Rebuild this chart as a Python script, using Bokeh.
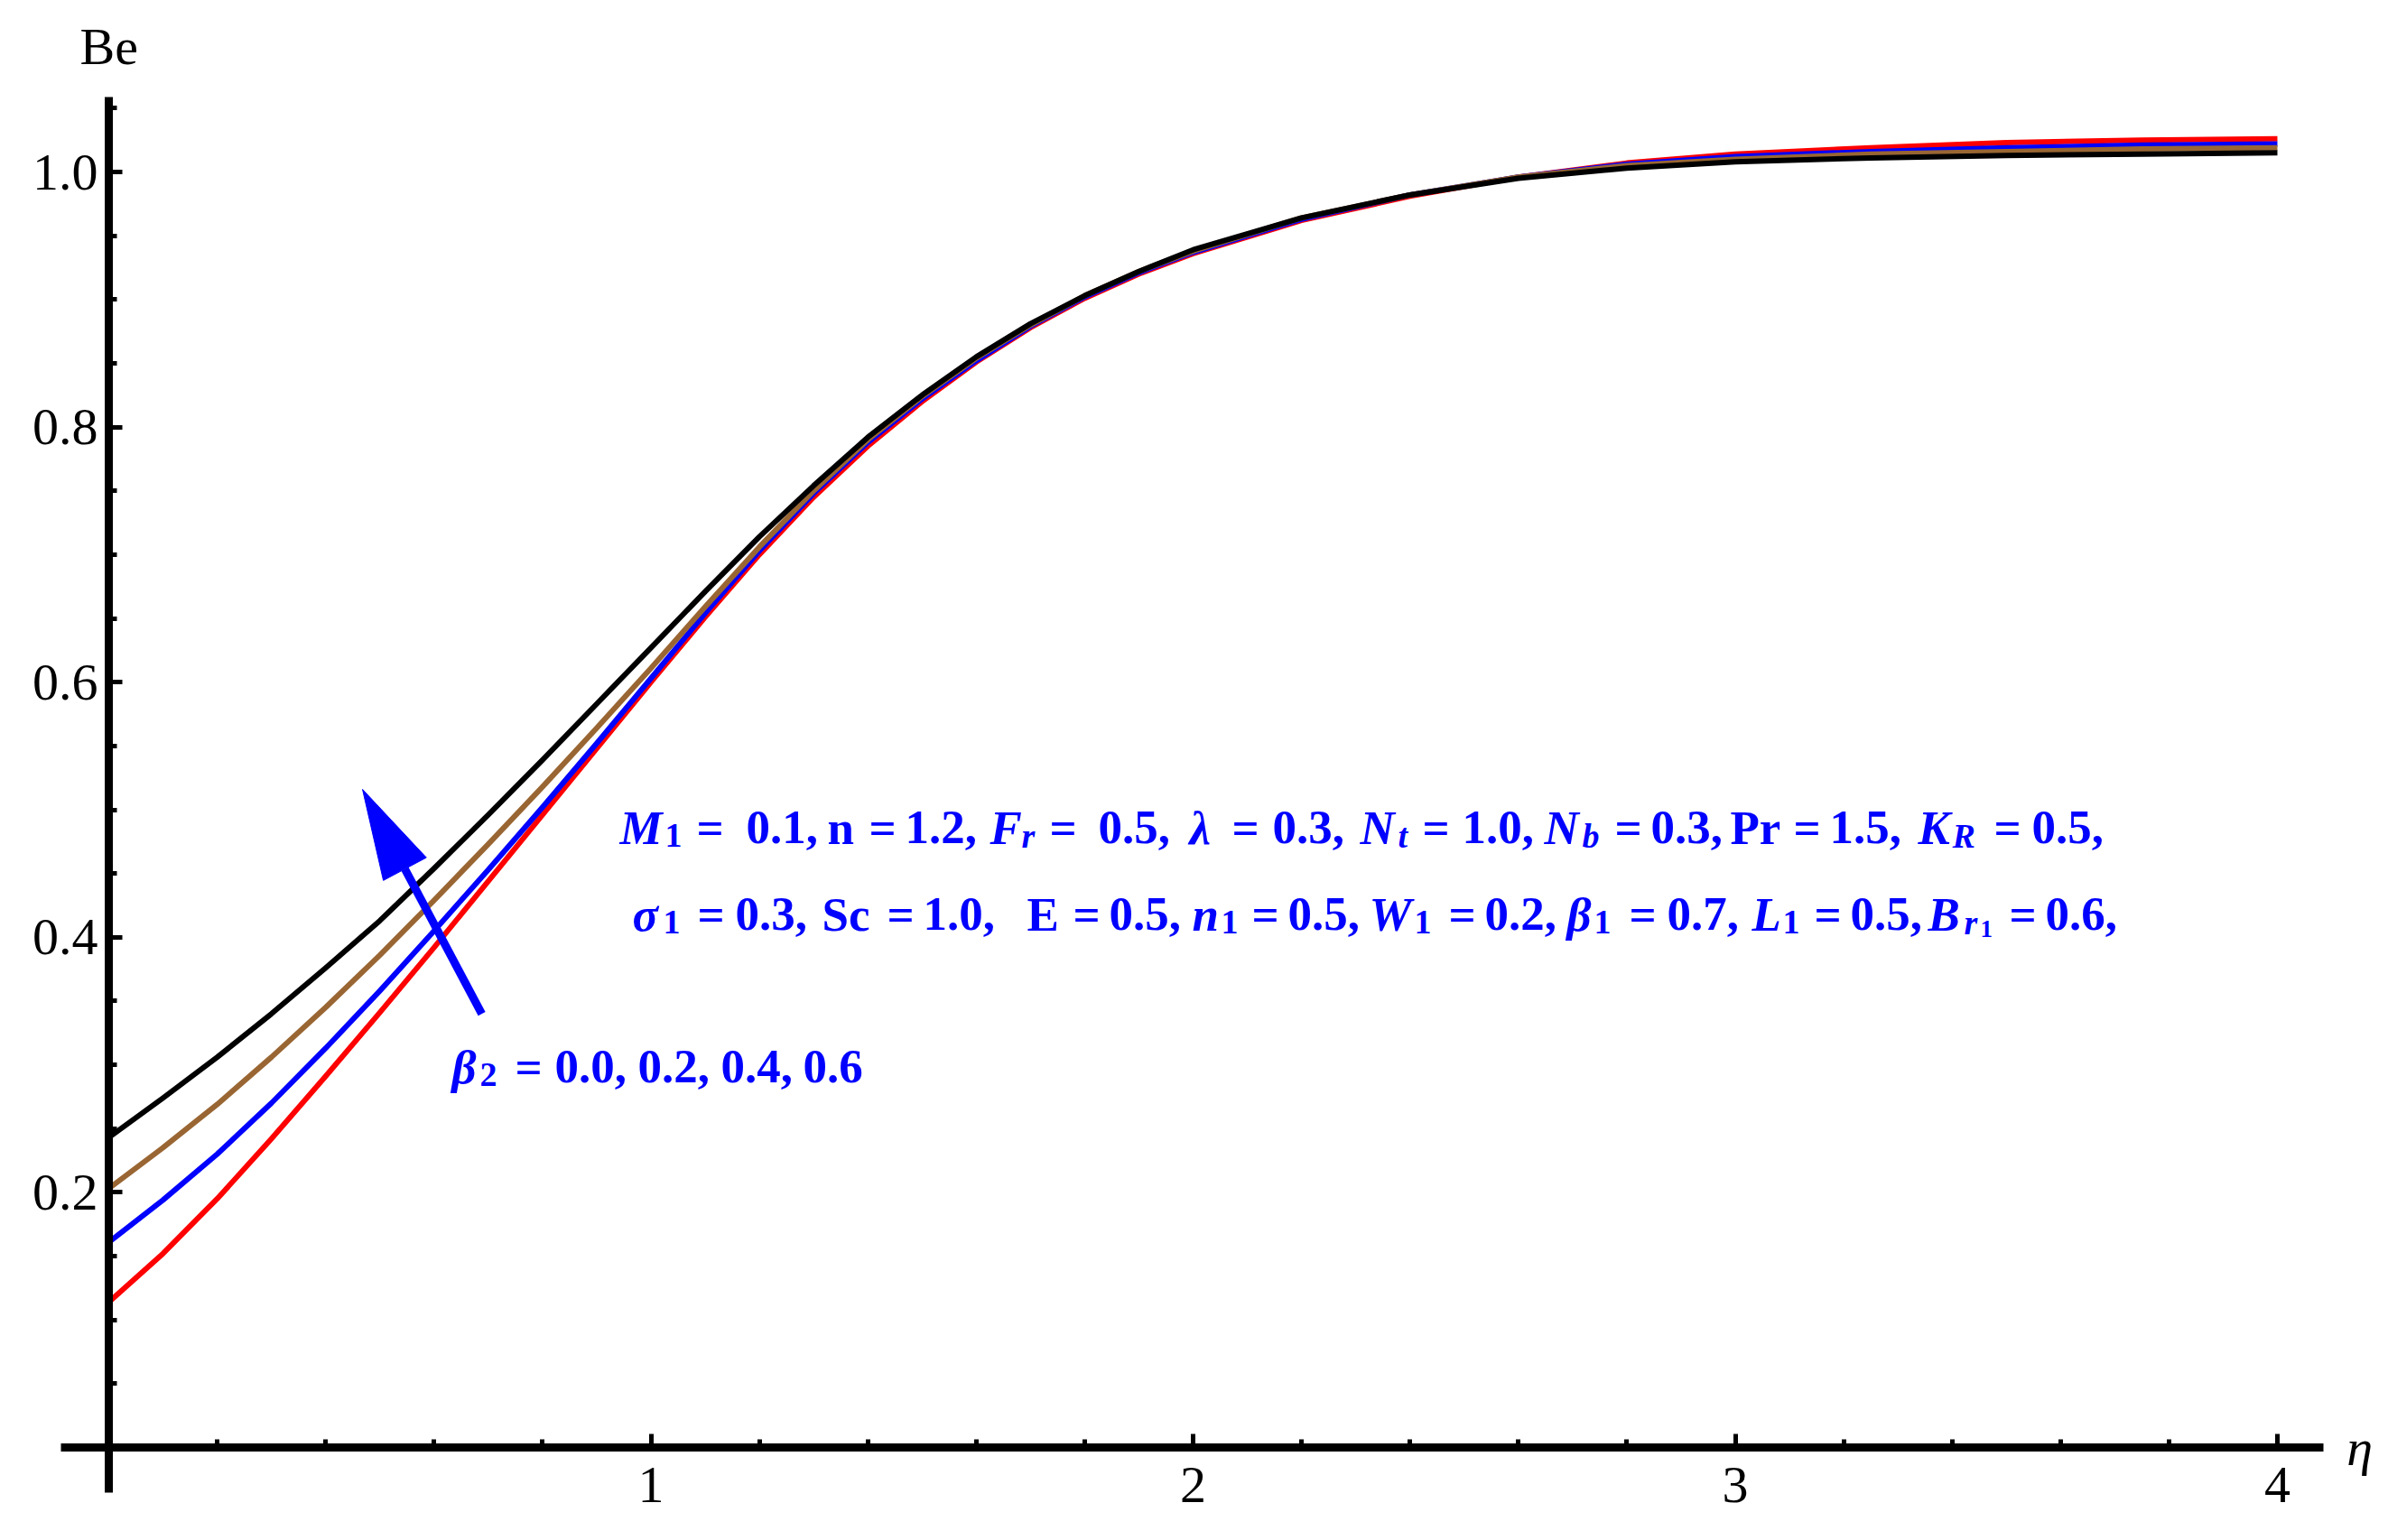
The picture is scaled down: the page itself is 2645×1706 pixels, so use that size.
from bokeh.plotting import figure
from bokeh.models import Range1d, FixedTicker, PrintfTickFormatter, Label, ColumnDataSource
from bokeh.embed import file_html
from bokeh.resources import INLINE
from bokeh.core.properties import value

# ---------------- data ----------------
eta = [0.0, 0.1, 0.2, 0.3, 0.4, 0.5, 0.6, 0.7, 0.8, 0.9, 1.0, 1.1, 1.2, 1.3, 1.4,
       1.5, 1.6, 1.7, 1.8, 1.9, 2.0, 2.2, 2.4, 2.6, 2.8, 3.0, 3.25, 3.5, 3.75, 4.0]

be_beta2_00 = [0.114, 0.152, 0.195, 0.242, 0.291, 0.341, 0.392, 0.444, 0.496, 0.548, 0.600,
               0.651, 0.700, 0.745, 0.785, 0.820, 0.851, 0.878, 0.901, 0.920, 0.936,
               0.962, 0.981, 0.996, 1.007, 1.014, 1.019, 1.023, 1.025, 1.026]
be_beta2_02 = [0.161, 0.194, 0.230, 0.270, 0.313, 0.358, 0.405, 0.453, 0.502, 0.552, 0.603,
               0.654, 0.703, 0.748, 0.788, 0.822, 0.852, 0.879, 0.902, 0.921, 0.937,
               0.963, 0.982, 0.996, 1.006, 1.012, 1.016, 1.019, 1.021, 1.022]
be_beta2_04 = [0.203, 0.235, 0.269, 0.306, 0.345, 0.386, 0.429, 0.473, 0.518, 0.564, 0.611,
               0.659, 0.706, 0.750, 0.790, 0.824, 0.854, 0.880, 0.903, 0.922, 0.938,
               0.964, 0.982, 0.996, 1.005, 1.010, 1.014, 1.016, 1.018, 1.019]
be_beta2_06 = [0.243, 0.274, 0.306, 0.340, 0.376, 0.413, 0.454, 0.496, 0.539, 0.583, 0.627,
               0.671, 0.714, 0.754, 0.792, 0.825, 0.855, 0.881, 0.903, 0.922, 0.939,
               0.964, 0.982, 0.995, 1.003, 1.008, 1.011, 1.013, 1.014, 1.015]

series = [be_beta2_00, be_beta2_02, be_beta2_04, be_beta2_06]
series_colors = ["#FF0000", "#0000FF", "#996633", "#000000"]

x_major = [1, 2, 3, 4]
x_minor = [0.2, 0.4, 0.6, 0.8, 1.2, 1.4, 1.6, 1.8, 2.2, 2.4, 2.6, 2.8, 3.2, 3.4, 3.6, 3.8]
y_major = [0.2, 0.4, 0.6, 0.8, 1.0]
y_minor = [0.05, 0.1, 0.15, 0.25, 0.3, 0.35, 0.45, 0.5, 0.55, 0.65, 0.7, 0.75,
           0.85, 0.9, 0.95, 1.05]

y_label = "Be"
x_label = "η"

# annotation runs: (text, style, size class)
B, BI = "bold", "bold italic"
line1 = [("M", BI, "main"), ("1", B, "sub"), ("=", B, "main"), ("0.1,", B, "main"),
         ("n", B, "main"), ("=", B, "main"), ("1.2,", B, "main"),
         ("F", BI, "main"), ("r", BI, "sub"), ("=", B, "main"), ("0.5,", B, "main"),
         ("λ", BI, "main"), ("=", B, "main"), ("0.3,", B, "main"),
         ("N", BI, "main"), ("t", BI, "sub"), ("=", B, "main"), ("1.0,", B, "main"),
         ("N", BI, "main"), ("b", BI, "sub"), ("=", B, "main"), ("0.3,", B, "main"),
         ("Pr", B, "main"), ("=", B, "main"), ("1.5,", B, "main"),
         ("K", BI, "main"), ("R", BI, "sub"), ("=", B, "main"), ("0.5,", B, "main")]
line2 = [("σ", BI, "main"), ("1", B, "sub"), ("=", B, "main"), ("0.3,", B, "main"),
         ("Sc", B, "main"), ("=", B, "main"), ("1.0,", B, "main"),
         ("E", B, "main"), ("=", B, "main"), ("0.5,", B, "main"),
         ("n", BI, "main"), ("1", B, "sub"), ("=", B, "main"), ("0.5,", B, "main"),
         ("W", BI, "main"), ("1", B, "sub"), ("=", B, "main"), ("0.2,", B, "main"),
         ("β", BI, "main"), ("1", B, "sub"), ("=", B, "main"), ("0.7,", B, "main"),
         ("L", BI, "main"), ("1", B, "sub"), ("=", B, "main"), ("0.5,", B, "main"),
         ("B", BI, "main"), ("r", BI, "sub"), ("1", B, "subsub"), ("=", B, "main"), ("0.6,", B, "main")]
line3 = [("β", BI, "main"), ("2", B, "sub"), ("=", B, "main"),
         ("0.0,", B, "main"), ("0.2,", B, "main"), ("0.4,", B, "main"), ("0.6", B, "main")]

# ---------------- layout ----------------
W, H = 2629, 1690
PX_X, PX_Y = 600.5, 1413.0        # pixels per data unit
OX, OY = 120, 1603                # canvas px of the data origin
X0, X1 = -OX / PX_X, (W - OX) / PX_X
Y0, Y1 = -(H - OY) / PX_Y, OY / PX_Y

p = figure(width=W, height=H, output_backend="svg", toolbar_location=None,
           x_range=Range1d(X0, X1), y_range=Range1d(Y0, Y1),
           min_border=0, min_border_left=0, min_border_right=0,
           min_border_top=0, min_border_bottom=0,
           background_fill_color="white", border_fill_color="white")
p.outline_line_color = None
p.grid.visible = False

for ax in (p.xaxis[0], p.yaxis[0]):
    ax.fixed_location = 0
    ax.axis_line_width = 9
    ax.axis_line_color = "black"
    ax.major_tick_line_width = 5
    ax.minor_tick_line_width = 5
    ax.major_tick_in = 15
    ax.major_tick_out = 0
    ax.minor_tick_in = 9
    ax.minor_tick_out = 0
    ax.major_label_text_font = "Liberation Serif"
    ax.major_label_text_font_size = "58px"
    ax.major_label_text_color = "black"

p.xaxis.bounds = (-0.0883, 4.0849)
p.yaxis.bounds = (-0.0354, 1.0587)
p.xaxis.ticker = FixedTicker(ticks=x_major, minor_ticks=x_minor)
p.yaxis.ticker = FixedTicker(ticks=y_major, minor_ticks=y_minor)
p.yaxis.formatter = PrintfTickFormatter(format="%.1f")
p.xaxis.major_label_standoff = 22
p.yaxis.major_label_standoff = 12

for ys, col in zip(series, series_colors):
    p.line(eta, ys, line_color=col, line_width=6, line_join="round")

# axis names
p.add_layout(Label(x=-0.0533, y=1.0984, text=y_label, text_font="Liberation Serif",
                   text_font_size="58px", text_color="black",
                   text_baseline="alphabetic", text_align="left"))
p.add_layout(Label(x=4.128, y=0.0, text=x_label, text_font="Liberation Serif",
                   text_font_style="italic", text_font_size="58px", text_color="black",
                   text_baseline="alphabetic", text_align="left"))

# ---------------- annotation text ----------------
sizes = {"main": 53, "sub": 38, "subsub": 27}
drops = {"main": 0, "sub": 9, "subsub": 16}
pos1 = [686, 736, 771, 826,
        916, 962, 1002,
        1096, 1131, 1162, 1216,
        1317, 1364, 1409,
        1506, 1548, 1575, 1619,
        1710, 1752, 1788, 1828,
        1916, 1986, 2026,
        2124, 2162, 2208, 2250]
pos2 = [700, 734, 772, 814,
        910, 982, 1022,
        1137, 1188, 1228,
        1320, 1352, 1386, 1426,
        1516, 1566, 1604, 1644,
        1735, 1765, 1804, 1846,
        1940, 1974, 2009, 2049,
        2135, 2175, 2193, 2225, 2265]
pos3 = [500, 531, 570, 614, 706, 798, 889]
lines = [(line1, pos1, 916), (line2, pos2, 1012), (line3, pos3, 1181)]

rx, ry, rt, rxo, ryo, rfs, rst = [], [], [], [], [], [], []
for runs, pos, base_px in lines:
    ax_px = pos[0]
    ax_data = (ax_px - OX) / PX_X
    ay_data = (OY - base_px) / PX_Y
    for (t, st, sz), px in zip(runs, pos):
        rx.append(ax_data)
        ry.append(ay_data)
        rt.append(t)
        rxo.append(px - ax_px)
        ryo.append(drops[sz])
        rfs.append(f"{sizes[sz]}px")
        rst.append(st)

src = ColumnDataSource(dict(x=rx, y=ry, t=rt, xo=rxo, yo=ryo, fs=rfs, st=rst))
p.text(x="x", y="y", text="t", x_offset="xo", y_offset="yo", source=src,
       text_font=value("Liberation Serif"), text_font_size="fs", text_font_style="st",
       text_color="#0000FF", text_align="left", text_baseline="alphabetic")

# ---------------- arrow ----------------
tail = (0.688, 0.340)
tip = (0.468, 0.516)
head_len, head_half = 100, 27
dxp = (tip[0] - tail[0]) * PX_X
dyp = (tip[1] - tail[1]) * PX_Y
L = (dxp ** 2 + dyp ** 2) ** 0.5
ux, uy = dxp / L, dyp / L
bx, by = -ux * head_len, -uy * head_len
nx, ny = -uy, ux
base = (tip[0] + bx / PX_X, tip[1] + by / PX_Y)
c1 = (tip[0] + (bx + nx * head_half) / PX_X, tip[1] + (by + ny * head_half) / PX_Y)
c2 = (tip[0] + (bx - nx * head_half) / PX_X, tip[1] + (by - ny * head_half) / PX_Y)
p.segment(x0=[tail[0]], y0=[tail[1]], x1=[base[0]], y1=[base[1]],
          line_color="#0000FF", line_width=9)
p.patch([tip[0], c1[0], c2[0]], [tip[1], c1[1], c2[1]],
        fill_color="#0000FF", line_color="#0000FF", line_width=1)

open("out.html", "w").write(file_html(p, INLINE))
